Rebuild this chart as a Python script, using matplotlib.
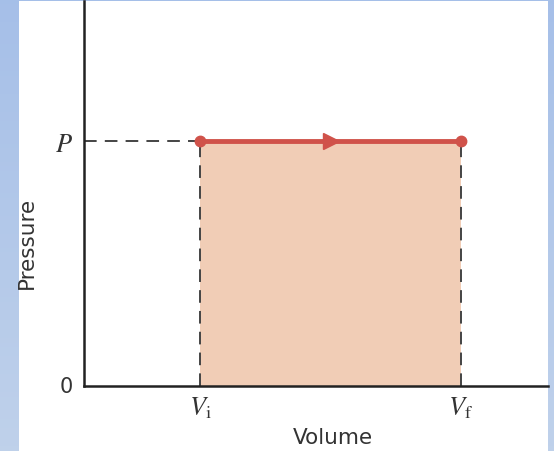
import matplotlib
matplotlib.use('Agg')
import matplotlib.pyplot as plt
import numpy as np
from matplotlib.patches import Rectangle

# Valores del proceso isobárico (unidades arbitrarias)
volumenes = [1.0, 3.25]      # V_i, V_f
presion = 1.0                # P
etiquetas_x = [r'$V_{\mathrm{i}}$', r'$V_{\mathrm{f}}$']
etiqueta_p = r'$P$'
x_max = 4.0
y_max = 1.57

plt.rcParams['mathtext.fontset'] = 'stix'

fig = plt.figure(figsize=(5.54, 4.52), dpi=100)
fig.patch.set_facecolor('#adc3e8')

# fondo azul con degradado
bg = fig.add_axes([0, 0, 1, 1], zorder=-20)
grad = np.linspace(0, 1, 100).reshape(-1, 1)
c_top = np.array([0.65, 0.75, 0.91])
c_bot = np.array([0.75, 0.82, 0.92])
img = c_top + grad[..., None] * (c_bot - c_top)
bg.imshow(img, aspect='auto', extent=[0, 1, 0, 1], origin='upper')
bg.axis('off')

# panel blanco
fig.patches.append(Rectangle((19 / 554, 0), (548 - 19) / 554, 450 / 452,
                             transform=fig.transFigure, facecolor='white',
                             edgecolor='none', zorder=-10))

ax = fig.add_axes([84 / 554, 65 / 452, (548 - 84) / 554, (387 - 2) / 452])
ax.set_facecolor('none')
ax.set_xlim(0, x_max)
ax.set_ylim(0, y_max)

vi, vf = volumenes
# área bajo la curva
ax.fill_between([vi, vf], 0, presion, color='#f1cdb6', linewidth=0, zorder=1)
# líneas discontinuas
estilo = dict(ls=(0, (6.5, 4.2)), color='#444444', lw=1.4, zorder=2)
ax.plot([0, vi], [presion, presion], **estilo)
for v in volumenes:
    ax.plot([v, v], [0, presion], **estilo)
# proceso
ax.plot([vi, vf], [presion, presion], color='#d0524a', lw=3.5, zorder=3)
ax.plot(volumenes, [presion, presion], 'o', color='#d0524a', ms=7.5, zorder=4)
ax.plot([(vi + vf) / 2], [presion], '>', color='#d0524a', ms=11, zorder=4)

for s in ['top', 'right']:
    ax.spines[s].set_visible(False)
for s in ['left', 'bottom']:
    ax.spines[s].set_linewidth(1.8)
    ax.spines[s].set_color('#222222')

ax.set_xticks(volumenes)
ax.set_xticklabels(etiquetas_x, fontsize=19, color='#333333')
ax.set_yticks([0, presion])
ax.set_yticklabels(['0', etiqueta_p], fontsize=19, color='#333333')
ax.get_yticklabels()[0].set_fontsize(15)
ax.get_yticklabels()[0].set_family('DejaVu Sans')
ax.get_yticklabels()[0].set_va('center')
ax.tick_params(length=0, pad=6)
ax.tick_params(axis='y', pad=8)

ax.set_xlabel('Volume', fontsize=15.5, color='#333333', va='center')
ax.xaxis.set_label_coords((333 - 84) / 464, -(438 - 387) / 385)
ax.set_ylabel('Pressure', fontsize=15.5, color='#333333', va='center', ha='center')
ax.yaxis.set_label_coords((27 - 84) / 464, (387 - 243) / 385)

fig.savefig('out.png', dpi=100, facecolor=fig.get_facecolor())
